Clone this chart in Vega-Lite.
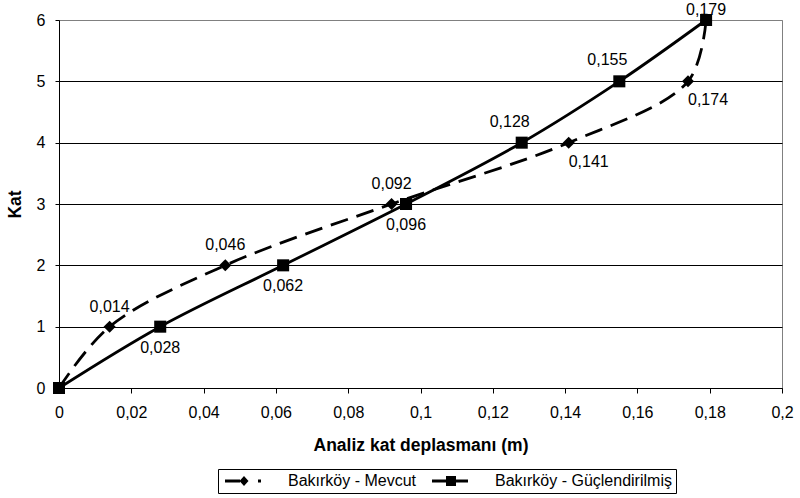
{
  "$schema": "https://vega.github.io/schema/vega-lite/v6.json",
  "width": 723,
  "height": 368,
  "autosize": "none",
  "padding": {"left": 59, "top": 20, "right": 18, "bottom": 110},
  "background": "white",
  "config": {
    "locale": {"number": {"decimal": ",", "thousands": ".", "grouping": [3], "currency": ["", " TL"]}},
    "font": "Liberation Sans",
    "view": {"stroke": "#808080", "strokeWidth": 1},
    "axis": {
      "labelFont": "Liberation Sans",
      "labelFontSize": 16,
      "labelColor": "black",
      "titleFont": "Liberation Sans",
      "titleFontSize": 17.5,
      "titleFontWeight": "bold",
      "titleColor": "black",
      "domainColor": "black",
      "tickColor": "black",
      "domainWidth": 1,
      "tickWidth": 1
    },
    "legend": {
      "labelFont": "Liberation Sans",
      "labelFontSize": 16,
      "labelColor": "black",
      "labelLimit": 0
    }
  },
  "data": {
    "values": [
      {"seri": "Bakırköy - Mevcut", "Kat": 0, "d": 0},
      {"seri": "Bakırköy - Mevcut", "Kat": 1, "d": 0.014},
      {"seri": "Bakırköy - Mevcut", "Kat": 2, "d": 0.046},
      {"seri": "Bakırköy - Mevcut", "Kat": 3, "d": 0.092},
      {"seri": "Bakırköy - Mevcut", "Kat": 4, "d": 0.141},
      {"seri": "Bakırköy - Mevcut", "Kat": 5, "d": 0.174},
      {"seri": "Bakırköy - Mevcut", "Kat": 6, "d": 0.179},
      {"seri": "Bakırköy - Güçlendirilmiş", "Kat": 0, "d": 0},
      {"seri": "Bakırköy - Güçlendirilmiş", "Kat": 1, "d": 0.028},
      {"seri": "Bakırköy - Güçlendirilmiş", "Kat": 2, "d": 0.062},
      {"seri": "Bakırköy - Güçlendirilmiş", "Kat": 3, "d": 0.096},
      {"seri": "Bakırköy - Güçlendirilmiş", "Kat": 4, "d": 0.128},
      {"seri": "Bakırköy - Güçlendirilmiş", "Kat": 5, "d": 0.155},
      {"seri": "Bakırköy - Güçlendirilmiş", "Kat": 6, "d": 0.179}
    ]
  },
  "encoding": {
    "x": {
      "field": "d",
      "type": "quantitative",
      "scale": {"domain": [0, 0.2], "nice": false, "zero": false},
      "axis": {
        "title": "Analiz kat deplasmanı (m)",
        "values": [0, 0.02, 0.04, 0.06, 0.08, 0.1, 0.12, 0.14, 0.16, 0.18, 0.2],
        "format": ".2~f",
        "grid": false,
        "tickSize": 5,
        "labelPadding": 11,
        "titlePadding": 16,
        "labelFlush": false,
        "labelOverlap": false
      }
    },
    "y": {
      "field": "Kat",
      "type": "quantitative",
      "scale": {"domain": [0, 6], "nice": false},
      "axis": {
        "title": "Kat",
        "values": [0, 1, 2, 3, 4, 5, 6],
        "format": "d",
        "grid": true,
        "gridColor": {"condition": {"test": "datum.value === 6", "value": "#808080"}, "value": "black"},
        "gridWidth": 1,
        "tickSize": 4,
        "labelPadding": 10,
        "titlePadding": 12,
        "labelFlush": false
      }
    }
  },
  "layer": [
    {
      "transform": [{"filter": "datum.seri === 'Bakırköy - Mevcut'"}],
      "mark": {"type": "line", "interpolate": "catmull-rom", "strokeWidth": 2.8, "color": "black", "strokeDash": [18, 9]},
      "encoding": {"order": {"field": "Kat", "type": "quantitative"}}
    },
    {
      "transform": [{"filter": "datum.seri === 'Bakırköy - Güçlendirilmiş'"}],
      "mark": {"type": "line", "interpolate": "catmull-rom", "strokeWidth": 2.8, "color": "black"},
      "encoding": {"order": {"field": "Kat", "type": "quantitative"}}
    },
    {
      "transform": [{"filter": "datum.seri === 'Bakırköy - Mevcut'"}],
      "mark": {"type": "point", "shape": "diamond", "filled": true, "color": "black", "opacity": 1, "strokeWidth": 0, "size": 145}
    },
    {
      "transform": [{"filter": "datum.seri === 'Bakırköy - Güçlendirilmiş'"}],
      "mark": {"type": "point", "shape": "square", "filled": true, "color": "black", "opacity": 1, "strokeWidth": 0, "size": 145}
    },
    {
      "mark": {"type": "point", "filled": true, "color": "black", "opacity": 0, "size": 100},
      "encoding": {
        "shape": {
          "field": "seri",
          "type": "nominal",
          "scale": {
            "domain": ["Bakırköy - Mevcut", "Bakırköy - Güçlendirilmiş"],
            "range": [
              "M-3.6,-0.3H-0.6V0.3H-3.6ZM0.2,-1L1.1,0L0.2,1L-0.7,0ZM3,-0.3H3.6V0.3H3Z",
              "M-3.6,-0.3H3.6V0.3H-3.6ZM-0.8,-1H1.2V1H-0.8Z"
            ]
          },
          "legend": {
            "title": null,
            "orient": "none",
            "direction": "horizontal",
            "legendX": 159,
            "legendY": 449,
            "columns": 2,
            "columnPadding": 12,
            "padding": 4,
            "strokeColor": "black",
            "fillColor": "white",
            "symbolSize": 100,
            "symbolFillColor": "black",
            "symbolStrokeColor": "black",
            "symbolStrokeWidth": 0,
            "symbolOpacity": 1,
            "symbolOffset": 13,
            "labelOffset": 37
          }
        }
      }
    },
    {
      "transform": [{"filter": "datum.seri === 'Bakırköy - Mevcut' && datum.Kat >= 1 && datum.Kat <= 3"}],
      "mark": {"type": "text", "font": "Liberation Sans", "fontSize": 16, "color": "black", "baseline": "middle", "dy": -20},
      "encoding": {"text": {"field": "d", "type": "quantitative", "format": ".3f"}}
    },
    {
      "transform": [{"filter": "datum.seri === 'Bakırköy - Mevcut' && datum.Kat >= 4 && datum.Kat <= 5"}],
      "mark": {"type": "text", "font": "Liberation Sans", "fontSize": 16, "color": "black", "baseline": "middle", "dx": 20, "dy": 19},
      "encoding": {"text": {"field": "d", "type": "quantitative", "format": ".3f"}}
    },
    {
      "transform": [{"filter": "datum.seri === 'Bakırköy - Güçlendirilmiş' && datum.Kat >= 1 && datum.Kat <= 3"}],
      "mark": {"type": "text", "font": "Liberation Sans", "fontSize": 16, "color": "black", "baseline": "middle", "dy": 21},
      "encoding": {"text": {"field": "d", "type": "quantitative", "format": ".3f"}}
    },
    {
      "transform": [{"filter": "datum.seri === 'Bakırköy - Güçlendirilmiş' && datum.Kat >= 4 && datum.Kat <= 5"}],
      "mark": {"type": "text", "font": "Liberation Sans", "fontSize": 16, "color": "black", "baseline": "middle", "dx": -12, "dy": -21},
      "encoding": {"text": {"field": "d", "type": "quantitative", "format": ".3f"}}
    },
    {
      "transform": [{"filter": "datum.seri === 'Bakırköy - Güçlendirilmiş' && datum.Kat === 6"}],
      "mark": {"type": "text", "font": "Liberation Sans", "fontSize": 16, "color": "black", "baseline": "middle", "dy": -10},
      "encoding": {"text": {"field": "d", "type": "quantitative", "format": ".3f"}}
    }
  ]
}
